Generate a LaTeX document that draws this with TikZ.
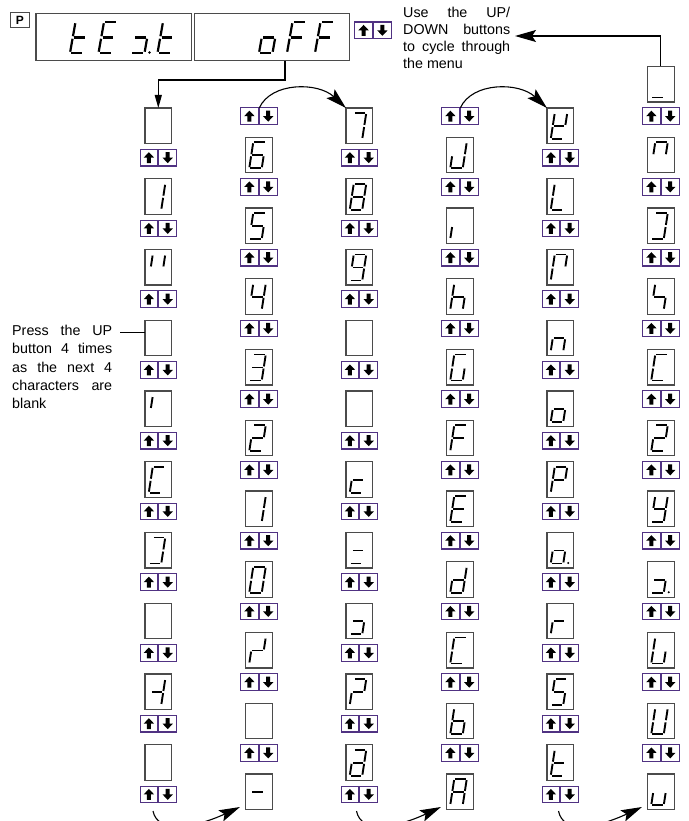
\documentclass[tikz,border=0pt]{standalone}
\usepackage{fontspec}
\setmainfont{Liberation Sans}
\usetikzlibrary{arrows.meta,calc}
\definecolor{btnc}{RGB}{80,50,130}
\definecolor{boxc}{RGB}{75,75,75}

\newcommand\setsmall{\def\gw{12.5}\def\gs{4}\def\gh{26}\def\segw{1.9pt}\def\seggap{1.1pt}\def\dpx{5}\def\dpr{1.2pt}}
\newcommand\setbig{\def\gw{13.5}\def\gs{5.5}\def\gh{31}\def\segw{2.2pt}\def\seggap{1.3pt}\def\dpx{5}\def\dpr{1.4pt}}

\newcommand\SGa{\draw[segline] ({\gs},{-\gh}) -- ({\gw+\gs},{-\gh});}
\newcommand\SGb{\draw[segline] ({\gw+\gs/2},{-\gh/2}) -- ({\gw+\gs},{-\gh});}
\newcommand\SGc{\draw[segline] ({\gw},0) -- ({\gw+\gs/2},{-\gh/2});}
\newcommand\SGd{\draw[segline] (0,0) -- ({\gw},0);}
\newcommand\SGe{\draw[segline] (0,0) -- ({\gs/2},{-\gh/2});}
\newcommand\SGf{\draw[segline] ({\gs/2},{-\gh/2}) -- ({\gs},{-\gh});}
\newcommand\SGg{\draw[segline] ({\gs/2},{-\gh/2}) -- ({\gw+\gs/2},{-\gh/2});}
\newcommand\SGp{\fill ({\gw+\dpx},-0.5) circle[radius=\dpr];}

\newcommand\glyphin[2]{\edef\seglist{#2}\begin{scope}[shift={(#1.south west)},shift={(3.8,-4.5)}]\foreach \segname in \seglist {\csname SG\segname\endcsname}\end{scope}}
\newcommand\glyphxy[2]{\edef\seglist{#2}\begin{scope}[shift={(#1)}]\foreach \segname in \seglist {\csname SG\segname\endcsname}\end{scope}}
\newcommand\btns[3]{\node[upbtn] (#1u) at ({#2-9.4},{#3+8.35}) {};\node[dnbtn] (#1d) at ({#2+9.4},{#3+8.35}) {};}

\tikzset{
  segline/.style={line width=\segw, shorten <=\seggap, shorten >=\seggap, line cap=butt},
  dbox/.style={draw=boxc, line width=1.3pt, fill=white, minimum width=26.7pt, minimum height=35.5pt, inner sep=0pt, outer sep=0pt},
  btn/.style={draw=btnc, line width=1.1pt, fill=white, minimum width=17.7pt, minimum height=16.7pt, inner sep=0pt, outer sep=0pt},
  upbtn/.style={btn, path picture={\fill[black] ([shift={(0,-5.5)}]path picture bounding box.center) -- ++(5.2,5.5) -- ++(-3.2,0) -- ++(0,5.5) -- ++(-4,0) -- ++(0,-5.5) -- ++(-3.2,0) -- cycle;}},
  dnbtn/.style={btn, path picture={\fill[black] ([shift={(0,5.5)}]path picture bounding box.center) -- ++(5.2,-5.5) -- ++(-3.2,0) -- ++(0,-5.5) -- ++(-4,0) -- ++(0,5.5) -- ++(-3.2,0) -- cycle;}},
  conn/.style={line width=1.1pt, black},
  bigtip/.style={-{Stealth[length=21pt,width=12pt,inset=4pt]}},
  txt/.style={anchor=north west, inner sep=0pt, align=left, font=\fontsize{14.3}{18.3}\selectfont}
}

\begin{document}
\begin{tikzpicture}[x=1pt,y=-1pt]
\useasboundingbox (0,0) rectangle (688,821);
\setsmall

% top displays
\node[dbox, minimum width=19pt, minimum height=14.6pt, line width=1pt, font=\fontsize{12}{12}\selectfont\bfseries] (pk) at (20,20) {P};
\node[dbox, minimum width=155.7pt, minimum height=47.4pt] (dA) at (113.85,37) {};
\node[dbox, minimum width=155pt, minimum height=47.4pt] (dB) at (271.8,37) {};
\btns{top}{373}{22}
\begin{scope}
\setbig
\glyphxy{70,53}{f,e,g,d}
\glyphxy{98.5,53}{a,f,g,e,d}
\glyphxy{131,53}{g,c,d,p}
\glyphxy{157.5,53}{f,e,g,d}
\glyphxy{259,53}{g,c,d,e}
\glyphxy{287,53}{a,f,g,e}
\glyphxy{315,53}{a,f,g,e}
\end{scope}

% buttons
\foreach \cx/\ci in {158.3/1,359.3/3,560.3/5}{\foreach \k in {0,...,9}{\btns{b\ci-\k}{\cx}{108+70.75*\k+41.3}}}
\foreach \cx/\ci in {258.8/2,459.8/4,660.8/6}{\foreach \k in {0,...,9}{\btns{b\ci-\k}{\cx}{66.5+70.75*\k+41.3}}}

% column 1
\foreach \k/\s in {0/x,1/{b,c},2/{f,b},3/x,4/f,5/{a,f,e,d},6/{a,b,c,d},7/x,8/{g,b,c},9/x}{
  \node[dbox] (c1-\k) at (158.3,{108+70.75*\k+17.75}) {};
  \glyphin{c1-\k}{\s}}
% column 2
\foreach \k/\s in {1/{a,f,g,e,d,c},2/{a,f,g,c,d},3/{f,g,b,c},4/{a,b,g,c,d},5/{a,b,g,e,d},6/{b,c},7/{a,b,c,d,e,f},8/{e,g,b},9/x,10/g}{
  \node[dbox] (c2-\k) at (258.8,{66.5+70.75*\k+17.75}) {};
  \glyphin{c2-\k}{\s}}
% column 3
\foreach \k/\s in {0/{a,b,c},1/{a,b,c,d,e,f,g},2/{a,b,c,d,f,g},3/x,4/x,5/{g,e,d},6/{g,d},7/{g,c,d},8/{a,b,g,e},9/{a,b,c,d,e,g}}{
  \node[dbox] (c3-\k) at (359.3,{108+70.75*\k+17.75}) {};
  \glyphin{c3-\k}{\s}}
% column 4
\foreach \k/\s in {1/{b,c,d,e},2/e,3/{f,e,g,c},4/{a,f,e,d,c},5/{a,f,g,e},6/{a,f,g,e,d},7/{b,c,d,e,g},8/{a,f,e,d},9/{f,e,d,c,g},10/{a,b,c,e,f,g}}{
  \node[dbox] (c4-\k) at (459.8,{66.5+70.75*\k+17.75}) {};
  \glyphin{c4-\k}{\s}}
% column 5
\foreach \k/\s in {0/{f,b,g,e,d},1/{f,e,d},2/{a,f,e,b},3/{e,g,c},4/{g,c,d,e},5/{a,b,f,g,e},6/{g,c,d,e,p},7/{e,g},8/{a,f,g,c,d},9/{f,e,g,d}}{
  \node[dbox] (c5-\k) at (560.3,{108+70.75*\k+17.75}) {};
  \glyphin{c5-\k}{\s}}
% column 6
\foreach \k/\s in {0/d,1/{a,f,b},2/{a,b,c,d},3/{f,g,c},4/{a,f,e,d},5/{a,b,g,e,d},6/{f,b,g,c,d},7/{g,c,d,p},8/{f,e,d,c},9/{f,e,d,c,b},10/{e,d,c}}{
  \node[dbox] (c6-\k) at (660.8,{66.5+70.75*\k+17.75}) {};
  \glyphin{c6-\k}{\s}}

% texts
\node[txt, font=\fontsize{14.3}{17.3}\selectfont] (usetxt) at (403,6.5) {\makebox[107pt][s]{Use the UP/}\\\makebox[107pt][s]{DOWN buttons}\\\makebox[107pt][s]{to cycle through}\\the menu};
\node[txt] (presstxt) at (12,325) {\makebox[100pt][s]{Press the UP}\\\makebox[100pt][s]{button 4 times}\\\makebox[100pt][s]{as the next 4}\\\makebox[100pt][s]{characters are}\\blank};

% connectors
\coordinate (j1) at (285,80);
\draw[conn,-{Triangle[length=13pt,width=7pt]}] (dB.south -| j1) -- (j1) -| (c1-0.north);
\coordinate (tipU) at (515,36);
\draw[conn,bigtip] (c6-0.north) |- (tipU);
\coordinate (pl) at (120,332.5);
\draw[conn] (pl) -- (pl -| c1-3.west);

\draw[conn,bigtip] (b2-0d.north west) .. controls +(12,-26) and +(-28,-26) .. (c3-0.north west);
\draw[conn,bigtip] (b4-0d.north west) .. controls +(12,-26) and +(-28,-26) .. (c5-0.north west);

\coordinate (s1) at (153,811);
\coordinate (s3) at (356.5,811);
\coordinate (s5) at (558.5,811);
\draw[conn,bigtip] (s1) .. controls +(4.5,23) and +(-45.5,21) .. ([shift={(-5.5,-2.5)}]c2-10.south west);
\draw[conn,bigtip] (s3) .. controls +(4.5,23) and +(-45.5,21) .. ([shift={(-5.5,-2.5)}]c4-10.south west);
\draw[conn,bigtip] (s5) .. controls +(4.5,23) and +(-45.5,21) .. ([shift={(-5.5,-2.5)}]c6-10.south west);
\end{tikzpicture}
\end{document}
